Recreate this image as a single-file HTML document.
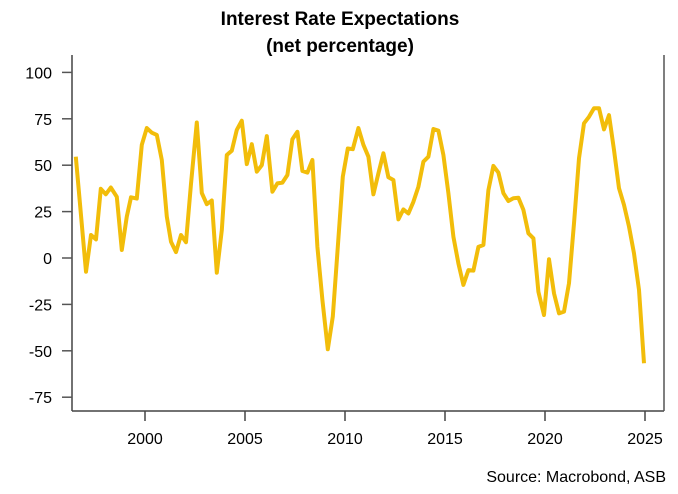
<!DOCTYPE html>
<html><head><meta charset="utf-8"><style>
body{margin:0;background:#fff;}
svg{display:block;font-family:"Liberation Sans",sans-serif;}
</style></head><body>
<svg id="chart" width="678" height="494">
<text x="340" y="25" text-anchor="middle" font-size="19" font-weight="bold" fill="#000">Interest Rate Expectations</text>
<text x="340" y="52" text-anchor="middle" font-size="19" font-weight="bold" fill="#000">(net percentage)</text>
<text x="666" y="482" text-anchor="end" font-size="16" fill="#000">Source: Macrobond, ASB</text>
<g id="axes"></g>
<g id="series"></g>
</svg>
<script>
const years=[1996.54,1997.05,1997.3,1997.55,1997.79,1998.04,1998.29,1998.59,1998.84,1999.09,1999.3,1999.59,1999.84,2000.09,2000.34,2000.59,2000.84,2001.09,2001.3,2001.55,2001.8,2002.05,2002.3,2002.59,2002.84,2003.09,2003.34,2003.59,2003.84,2004.09,2004.34,2004.59,2004.84,2005.09,2005.34,2005.59,2005.84,2006.09,2006.37,2006.62,2006.87,2007.12,2007.37,2007.62,2007.87,2008.12,2008.37,2008.62,2008.87,2009.14,2009.39,2009.64,2009.89,2010.14,2010.39,2010.67,2010.92,2011.17,2011.42,2011.67,2011.92,2012.17,2012.42,2012.67,2012.92,2013.17,2013.42,2013.67,2013.92,2014.17,2014.42,2014.67,2014.92,2015.17,2015.42,2015.67,2015.92,2016.17,2016.42,2016.67,2016.92,2017.17,2017.42,2017.67,2017.92,2018.17,2018.42,2018.67,2018.92,2019.17,2019.42,2019.67,2019.95,2020.2,2020.45,2020.7,2020.95,2021.2,2021.45,2021.7,2021.95,2022.2,2022.45,2022.7,2022.95,2023.2,2023.45,2023.7,2023.95,2024.2,2024.45,2024.7,2024.95];
const values=[54.6,-7.4,12.4,10,37.3,34.3,38,33,4.3,22.3,32.7,32,61,70,67.5,66.3,52.8,22.3,8.8,3.2,12.4,8.5,40,73,35,29,31,-7.9,15,55.5,57.8,69,74,50.6,61.3,46.5,50,65.7,35.7,40.2,40.6,44.7,64,68,46.9,46,52.8,6,-22.6,-49.2,-31.6,6,43.8,59,58.6,70,61,54.6,34.3,45.6,56.4,43.5,42,20.8,26.2,24,30.3,38.4,51.9,54.6,69.5,68.6,55.5,34.9,11.5,-2.9,-14.5,-6.5,-6.8,6,7,36.6,49.6,46,34.9,30.7,32.2,32.5,25.9,13.3,10.6,-18.2,-30.7,-0.7,-19,-29.8,-28.9,-13.6,18.7,53.7,72.6,76.1,80.7,80.7,69.3,77,58.2,37.6,28.6,16.9,2.5,-17.2,-56.7];
const yTicks=[100,75,50,25,0,-25,-50,-75];
const xTicks=[2000,2005,2010,2015,2020,2025];
const NS="http://www.w3.org/2000/svg";
function xs(y){return 145+(y-2000)*20;}
function ys(v){return 258-v*1.856;}
const axes=document.getElementById('axes');
function mk(tag,attrs,parent){const e=document.createElementNS(NS,tag);for(const k in attrs)e.setAttribute(k,attrs[k]);parent.appendChild(e);return e;}
let l=mk('line',{x1:72,y1:55,x2:72,y2:411,stroke:'#444','stroke-width':1.5},axes);


l=mk('line',{x1:72,y1:411,x2:664,y2:411,stroke:'#444','stroke-width':1.5},axes);


l=mk('line',{x1:664,y1:55,x2:664,y2:411,stroke:'#555','stroke-width':1.5},axes);


yTicks.forEach(v=>{
  const t=mk('line',{x1:62,y1:ys(v),x2:72,y2:ys(v),stroke:'#555','stroke-width':1.5},axes);
  
  
  const tx=mk('text',{x:52,y:ys(v)+6,'text-anchor':'end','font-size':16,fill:'#000'},axes);
  tx.textContent=v;
  
  
});
xTicks.forEach(v=>{
  const t=mk('line',{x1:xs(v),y1:411,x2:xs(v),y2:421,stroke:'#444','stroke-width':1.5},axes);
  
  
  const tx=mk('text',{x:xs(v),y:444,'text-anchor':'middle','font-size':16,fill:'#000'},axes);
  tx.textContent=v;
  
  
});
const pts=years.map((y,i)=>xs(y).toFixed(1)+','+ys(values[i]).toFixed(1)).join(' ');
const pl=mk('polyline',{points:pts,fill:'none',stroke:'#F2BD0A','stroke-width':4,'stroke-linejoin':'round'},document.getElementById('series'));


</script>
</body></html>
